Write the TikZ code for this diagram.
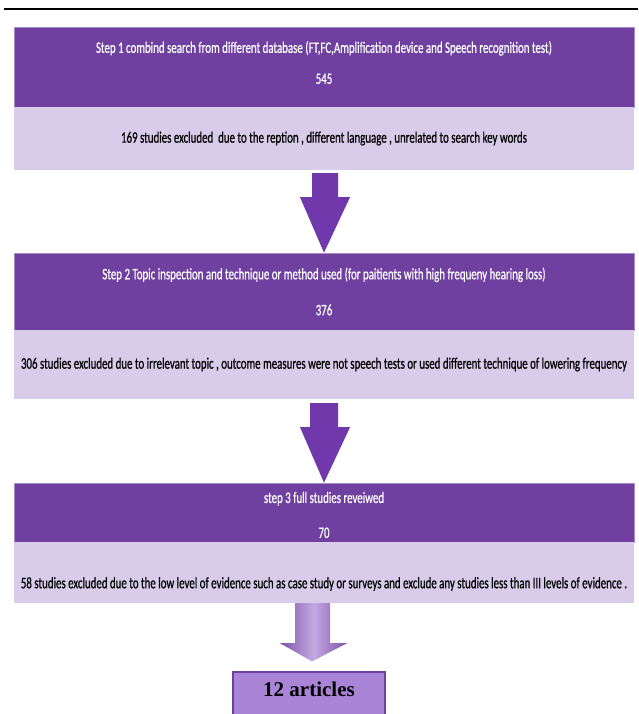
\documentclass[tikz,border=0pt]{standalone}
\usepackage{fontspec}
\setmainfont{Carlito}
\newfontfamily\boxfont[FakeStretch=0.68,FakeBold=0.6]{Carlito}
\newfontfamily\artfont{Liberation Serif}
\usepackage{tikz}
\usetikzlibrary{calc}
\definecolor{stepdark}{RGB}{112,64,160}
\definecolor{steplight}{RGB}{217,203,234}
\definecolor{arrowdark}{RGB}{112,56,170}
\definecolor{artfill}{RGB}{170,132,214}
\tikzset{
  stepbox/.style={fill=stepdark, draw=stepdark!60!white, line width=0.6pt, text=white,
    minimum width=620pt, inner sep=0pt, align=center, font=\boxfont\fontsize{16}{19}\selectfont},
  exclbox/.style={fill=steplight, minimum width=620pt, inner sep=0pt, align=center,
    font=\boxfont\fontsize{16}{19}\selectfont},
  blockarrow/.style={fill=arrowdark},
}

\begin{document}
\begin{tikzpicture}[x=1pt,y=-1pt]
\useasboundingbox (0,0) rectangle (638,714);
\draw[line width=1.6pt](4,9) -- (638,9);
% steps and exclusions
\node[stepbox, minimum height=80pt] (s1) at (324,67)
  {Step 1 combind search from different database (FT,FC,Amplification device and Speech recognition test)\\[12pt]545\rule[-9pt]{0pt}{9pt}};
\node[exclbox, minimum height=63pt] (e1) at (324,138.5)
  {169 studies excluded\ \ due to the reption , different language , unrelated to search key words};
\node[stepbox, minimum height=77pt] (s2) at (324,291.5)
  {Step 2 Topic inspection and technique or method used (for paitients with high frequeny hearing loss)\\[17pt]376};
\node[exclbox, minimum height=69pt] (e2) at (324,364.5)
  {306 studies excluded due to irrelevant topic , outcome measures were not speech tests or used different technique of lowering frequency};
\node[stepbox, minimum height=59pt] (s3) at (324,512.5)
  {\rule{0pt}{16pt}step 3 full studies reveiwed\\[16pt]70};
\node[exclbox, minimum height=61pt] (e3) at (324,572.5)
  {\rule{0pt}{34pt}58 studies excluded due to the low level of evidence such as case study or surveys and exclude any studies less than III levels of evidence .};
\node[fill=artfill, draw=stepdark, line width=1.2pt, minimum width=152pt, minimum height=50pt,
  font=\artfont\bfseries\fontsize{21}{23}\selectfont, text depth=16pt] (art) at (309,697) {12 articles};
% block arrows
\fill[blockarrow] ($(e1.south)+(-12,3)$) -- ($(e1.south)+(14,3)$) -- ($(e1.south)+(14,27)$)
  -- ($(e1.south)+(26,27)$) -- (s2.north) -- ($(e1.south)+(-24,27)$) -- ($(e1.south)+(-12,27)$) -- cycle;
\fill[blockarrow] ($(e2.south)+(-14,4)$) -- ($(e2.south)+(14,4)$) -- ($(e2.south)+(14,28)$)
  -- ($(e2.south)+(26,28)$) -- (s3.north) -- ($(e2.south)+(-24,28)$) -- ($(e2.south)+(-14,28)$) -- cycle;
\shade[left color=stepdark!90, right color=stepdark!90, middle color=artfill!70!white]
  ($(art.north |- e3.south)+(-14,0)$) -- ($(art.north |- e3.south)+(21,0)$) -- ($(art.north |- e3.south)+(21,40)$)
  -- ($(art.north |- e3.south)+(38,40)$) -- ($(art.north)+(3,-10)$) -- ($(art.north |- e3.south)+(-29,40)$)
  -- ($(art.north |- e3.south)+(-14,40)$) -- cycle;
\end{tikzpicture}
\end{document}
